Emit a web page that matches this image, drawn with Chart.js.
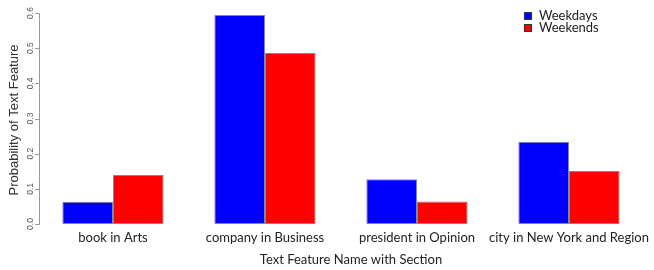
<!DOCTYPE html>
<html>
<head>
<meta charset="utf-8">
<script src="https://cdn.jsdelivr.net/npm/chart.js@4"></script>
<style>
  html, body { margin: 0; padding: 0; background: #fff; }
  #wrap { width: 654px; height: 270px; }
</style>
</head>
<body>
<div id="wrap"><canvas id="chart" width="654" height="270"></canvas></div>
<script>
// Chart data
const categories = ['book in Arts', 'company in Business', 'president in Opinion', 'city in New York and Region'];
const weekdays = [0.063, 0.594, 0.127, 0.234];
const weekends = [0.139, 0.486, 0.064, 0.151];
const yTicks = [0.0, 0.1, 0.2, 0.3, 0.4, 0.5, 0.6];
const seriesNames = ['Weekdays', 'Weekends'];
const seriesColors = ['#0000ff', '#ff0000'];

const FONT = 'Lato, "Open Sans", sans-serif';
const AXIS_FONT = '"Liberation Sans", Arial, sans-serif';

// R style axes, labels and legend drawn by hand
const rAxesPlugin = {
  id: 'rAxes',
  afterDraw(chart) {
    const ctx = chart.ctx;
    const y = chart.scales.y;
    const x = chart.scales.x;
    const axisX = chart.chartArea.left + 2;

    ctx.save();
    // y axis line and ticks
    ctx.strokeStyle = '#999';
    ctx.lineWidth = 1;
    ctx.beginPath();
    const top = Math.round(y.getPixelForValue(yTicks[yTicks.length - 1])) + 0.5;
    const bottom = Math.round(y.getPixelForValue(yTicks[0])) + 0.5;
    ctx.moveTo(axisX + 0.5, top);
    ctx.lineTo(axisX + 0.5, bottom);
    yTicks.forEach(function(v) {
      const py = Math.round(y.getPixelForValue(v)) + 0.5;
      ctx.moveTo(axisX + 0.5, py);
      ctx.lineTo(axisX - 4, py);
    });
    ctx.stroke();

    // y tick labels, rotated
    ctx.fillStyle = '#555';
    ctx.font = '8.5px ' + AXIS_FONT;
    ctx.textAlign = 'center';
    ctx.textBaseline = 'middle';
    yTicks.forEach(function(v) {
      const py = y.getPixelForValue(v);
      ctx.save();
      ctx.translate(31, py);
      ctx.rotate(-Math.PI / 2);
      ctx.fillText(v.toFixed(1), 0, 0);
      ctx.restore();
    });

    // y axis title
    ctx.fillStyle = '#333';
    ctx.font = '13px ' + AXIS_FONT;
    ctx.save();
    ctx.translate(14, 120);
    ctx.rotate(-Math.PI / 2);
    ctx.fillText('Probability of Text Feature', 0, 0);
    ctx.restore();

    // x category labels
    ctx.fillStyle = '#222';
    ctx.font = '13px ' + FONT;
    categories.forEach(function(c, i) {
      ctx.fillText(c, x.getPixelForValue(i), 238);
    });

    // x axis title
    ctx.fillText('Text Feature Name with Section', 351, 260);

    // legend
    ctx.textAlign = 'left';
    seriesNames.forEach(function(name, i) {
      const ly = 16 + i * 12;
      ctx.fillStyle = seriesColors[i];
      ctx.fillRect(525, ly - 3, 6, 6);
      ctx.strokeStyle = '#333';
      ctx.strokeRect(524.5, ly - 3.5, 7, 7);
      ctx.fillStyle = '#222';
      ctx.fillText(name, 539, ly);
    });
    ctx.restore();
  }
};

new Chart(document.getElementById('chart'), {
  type: 'bar',
  data: {
    labels: categories,
    datasets: [
      {
        label: seriesNames[0],
        data: weekdays,
        backgroundColor: seriesColors[0],
        borderColor: '#888',
        borderWidth: 1,
        borderSkipped: false
      },
      {
        label: seriesNames[1],
        data: weekends,
        backgroundColor: seriesColors[1],
        borderColor: '#888',
        borderWidth: 1,
        borderSkipped: false
      }
    ]
  },
  options: {
    responsive: false,
    animation: false,
    layout: {
      padding: { left: 37, right: 9, top: 13, bottom: 46 }
    },
    plugins: {
      legend: { display: false },
      tooltip: { enabled: false }
    },
    datasets: {
      bar: {
        categoryPercentage: 2 / 3,
        barPercentage: 1
      }
    },
    scales: {
      x: {
        display: false
      },
      y: {
        display: false,
        min: 0,
        max: 0.6
      }
    }
  },
  plugins: [rAxesPlugin]
});
</script>
</body>
</html>
